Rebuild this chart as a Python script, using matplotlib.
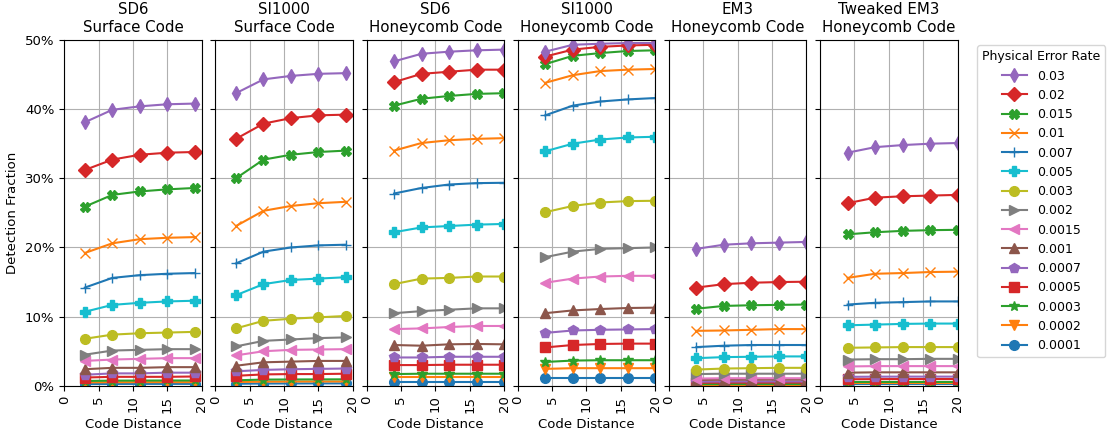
import matplotlib.pyplot as plt
import matplotlib.ticker as mticker
import numpy as np

# error rates, low to high (plot order); legend shows them reversed
rates = ['0.0001', '0.0002', '0.0003', '0.0005', '0.0007', '0.001', '0.0015',
         '0.002', '0.003', '0.005', '0.007', '0.01', '0.015', '0.02', '0.03']
markers = ['o', 'v', '*', 's', 'p', '^', '<', '>', 'o', 'P', '+', 'x', 'X', 'D', 'd']

titles = ['SD6\nSurface Code', 'SI1000\nSurface Code', 'SD6\nHoneycomb Code',
          'SI1000\nHoneycomb Code', 'EM3\nHoneycomb Code', 'Tweaked EM3\nHoneycomb Code']

surface_d = [3, 7, 11, 15, 19]
honeycomb_d = [4, 8, 12, 16, 20]

# detection fraction in %, one row per rate (same order as rates)
sd6_surface = [
    [0.25, 0.27, 0.28, 0.28, 0.28],
    [0.5, 0.52, 0.53, 0.53, 0.53],
    [0.7, 0.75, 0.76, 0.77, 0.77],
    [1.2, 1.3, 1.3, 1.3, 1.35],
    [1.6, 1.8, 1.8, 1.9, 1.9],
    [2.4, 2.6, 2.6, 2.7, 2.7],
    [3.6, 3.8, 3.9, 4.0, 4.0],
    [4.5, 5.1, 5.2, 5.3, 5.3],
    [6.8, 7.4, 7.6, 7.7, 7.8],
    [10.7, 11.7, 12.0, 12.2, 12.3],
    [14.2, 15.6, 16.0, 16.2, 16.3],
    [19.2, 20.6, 21.2, 21.4, 21.5],
    [25.9, 27.6, 28.1, 28.4, 28.6],
    [31.2, 32.7, 33.4, 33.7, 33.8],
    [38.1, 39.9, 40.4, 40.7, 40.8],
]
si1000_surface = [
    [0.3, 0.33, 0.34, 0.35, 0.35],
    [0.55, 0.6, 0.62, 0.63, 0.63],
    [0.8, 0.9, 0.92, 0.93, 0.94],
    [1.45, 1.65, 1.7, 1.7, 1.75],
    [2.1, 2.3, 2.4, 2.45, 2.5],
    [2.9, 3.4, 3.5, 3.6, 3.6],
    [4.4, 5.0, 5.2, 5.25, 5.3],
    [5.7, 6.5, 6.7, 6.9, 7.0],
    [8.3, 9.4, 9.7, 9.9, 10.1],
    [13.1, 14.7, 15.3, 15.5, 15.7],
    [17.7, 19.4, 20.0, 20.3, 20.4],
    [23.1, 25.3, 26.0, 26.4, 26.6],
    [30.0, 32.7, 33.4, 33.8, 34.0],
    [35.7, 37.9, 38.7, 39.1, 39.2],
    [42.3, 44.3, 44.8, 45.1, 45.2],
]
sd6_honeycomb = [
    [0.6, 0.6, 0.6, 0.6, 0.6],
    [1.3, 1.3, 1.3, 1.3, 1.3],
    [1.7, 1.75, 1.75, 1.75, 1.75],
    [3.0, 3.0, 3.05, 3.05, 3.05],
    [4.1, 4.1, 4.2, 4.2, 4.2],
    [5.9, 5.8, 6.0, 6.05, 6.0],
    [8.2, 8.3, 8.5, 8.65, 8.65],
    [10.5, 10.8, 11.0, 11.2, 11.2],
    [14.7, 15.5, 15.6, 15.8, 15.8],
    [22.2, 22.9, 23.1, 23.3, 23.4],
    [27.8, 28.6, 29.1, 29.3, 29.35],
    [34.0, 35.1, 35.5, 35.7, 35.8],
    [40.5, 41.5, 41.9, 42.2, 42.3],
    [43.9, 45.1, 45.4, 45.7, 45.7],
    [46.9, 48.0, 48.3, 48.5, 48.6],
]
si1000_honeycomb = [
    [1.2, 1.2, 1.2, 1.2, 1.2],
    [2.45, 2.55, 2.55, 2.55, 2.55],
    [3.45, 3.65, 3.7, 3.7, 3.7],
    [5.55, 5.9, 6.05, 6.1, 6.1],
    [7.65, 8.0, 8.1, 8.15, 8.2],
    [10.5, 10.9, 11.1, 11.25, 11.3],
    [14.9, 15.5, 15.8, 15.9, 15.9],
    [18.6, 19.4, 19.8, 19.9, 20.0],
    [25.1, 26.0, 26.5, 26.7, 26.75],
    [33.9, 35.0, 35.6, 35.9, 36.0],
    [39.1, 40.5, 41.1, 41.4, 41.6],
    [43.8, 44.9, 45.5, 45.7, 45.8],
    [46.5, 47.7, 48.1, 48.4, 48.5],
    [47.6, 48.6, 49.0, 49.2, 49.3],
    [48.3, 49.3, 49.45, 49.55, 49.55],
]
em3_honeycomb = [
    [0.08, 0.08, 0.08, 0.08, 0.08],
    [0.17, 0.17, 0.17, 0.17, 0.17],
    [0.25, 0.26, 0.26, 0.26, 0.26],
    [0.45, 0.46, 0.47, 0.47, 0.47],
    [0.6, 0.62, 0.63, 0.63, 0.63],
    [0.85, 0.88, 0.89, 0.9, 0.9],
    [1.05, 1.1, 1.1, 1.1, 1.1],
    [1.7, 1.75, 1.75, 1.75, 1.75],
    [2.35, 2.5, 2.55, 2.6, 2.6],
    [4.0, 4.15, 4.2, 4.25, 4.25],
    [5.6, 5.8, 5.9, 5.9, 5.9],
    [7.95, 8.0, 8.1, 8.2, 8.2],
    [11.15, 11.55, 11.65, 11.7, 11.75],
    [14.2, 14.7, 14.9, 15.0, 15.05],
    [19.8, 20.4, 20.6, 20.7, 20.8],
]
tweaked_em3_honeycomb = [
    [0.2, 0.2, 0.2, 0.2, 0.2],
    [0.38, 0.38, 0.38, 0.38, 0.38],
    [0.55, 0.56, 0.56, 0.56, 0.56],
    [0.95, 0.97, 0.98, 0.98, 0.98],
    [1.3, 1.32, 1.33, 1.33, 1.33],
    [1.9, 1.95, 1.95, 1.95, 1.95],
    [2.8, 2.85, 2.85, 2.85, 2.85],
    [3.8, 3.85, 3.85, 3.9, 3.9],
    [5.5, 5.55, 5.6, 5.6, 5.6],
    [8.75, 8.85, 8.95, 9.0, 9.0],
    [11.75, 12.0, 12.1, 12.2, 12.2],
    [15.6, 16.2, 16.3, 16.45, 16.5],
    [21.9, 22.2, 22.4, 22.5, 22.55],
    [26.4, 27.2, 27.4, 27.5, 27.6],
    [33.7, 34.5, 34.8, 35.0, 35.1],
]

panels = [
    (surface_d, sd6_surface),
    (surface_d, si1000_surface),
    (honeycomb_d, sd6_honeycomb),
    (honeycomb_d, si1000_honeycomb),
    (honeycomb_d, em3_honeycomb),
    (honeycomb_d, tweaked_em3_honeycomb),
]

plt.rcParams['font.size'] = 9.5
colors = plt.rcParams['axes.prop_cycle'].by_key()['color']

fig, axes = plt.subplots(1, 6, sharey=True, figsize=(11.07, 4.34), dpi=100)
fig.subplots_adjust(left=0.058, right=0.865, bottom=0.111, top=0.908, wspace=0.10)

for k, ax in enumerate(axes):
    xs, table = panels[k]
    for i, r in enumerate(rates):
        ax.plot(xs, np.array(table[i]) / 100, marker=markers[i], color=colors[i % 10],
                ms=7, lw=1.5, label=r)
    ax.set_title(titles[k], fontsize=10.8)
    ax.set_xlim(0, 20)
    ax.set_ylim(0, 0.5)
    ax.set_xticks([0, 5, 10, 15, 20])
    ax.tick_params(axis='x', labelrotation=90)
    ax.set_xlabel('Code Distance')
    ax.grid(True)

axes[0].yaxis.set_major_formatter(mticker.PercentFormatter(1.0, decimals=0))
axes[0].set_ylabel('Detection Fraction')

handles, labels = axes[0].get_legend_handles_labels()
fig.legend(handles[::-1], labels[::-1], title='Physical Error Rate', fontsize=9,
           title_fontsize=9, loc='upper left', bbox_to_anchor=(0.877, 0.91))

fig.savefig('out.png', dpi=100)
